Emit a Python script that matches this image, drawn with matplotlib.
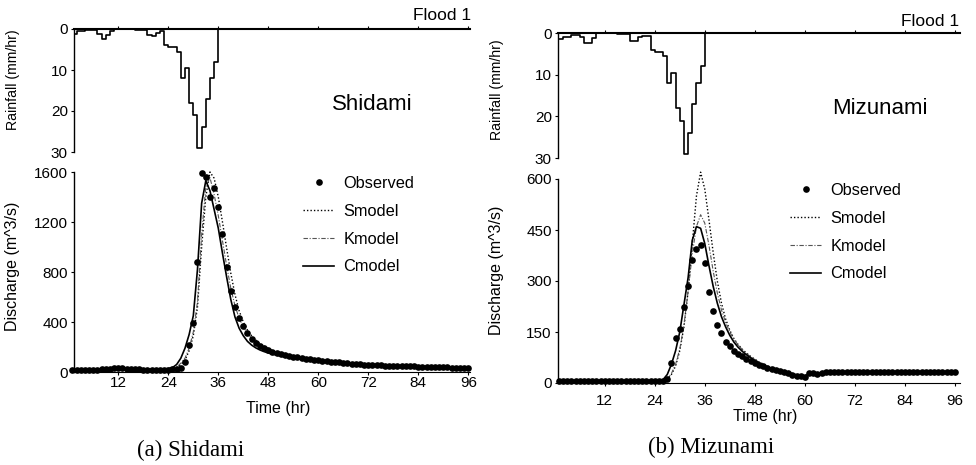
import numpy as np
import matplotlib
matplotlib.use('Agg')
import matplotlib.pyplot as plt
from matplotlib.lines import Line2D

# ---------------- data ----------------
hours = np.arange(1, 97)

rain_shidami = [1.2, 0.6, 0.6, 0.3, 0.3, 0.3, 1.2, 2.5, 1.5, 0.5,
                0, 0, 0, 0, 0, 0.2, 0.3, 0.3, 1.5, 1.8,
                1.0, 0.5, 4.0, 4.5, 4.5, 5.5, 12, 9.5, 18, 21,
                29, 24, 17, 12, 8, 0, 0, 0, 0, 0,
                0, 0, 0, 0, 0, 0, 0, 0, 0, 0,
                0, 0, 0, 0, 0, 0, 0, 0, 0, 0,
                0, 0, 0, 0, 0, 0, 0, 0, 0, 0,
                0, 0, 0, 0, 0, 0, 0, 0, 0, 0,
                0, 0, 0, 0, 0, 0, 0, 0, 0, 0,
                0, 0, 0, 0, 0, 0]

rain_mizunami = [1.5, 1.0, 1.0, 0.5, 0.5, 1.0, 2.5, 2.5, 1.2, 0,
                 0, 0, 0, 0, 0.3, 0.3, 0.3, 1.8, 1.8, 1.0,
                 0.6, 0.6, 4.0, 4.5, 4.5, 5.5, 12, 9.5, 18, 21,
                 29, 24, 17, 12, 8, 0, 0, 0, 0, 0,
                 0, 0, 0, 0, 0, 0, 0, 0, 0, 0,
                 0, 0, 0, 0, 0, 0, 0, 0, 0, 0,
                 0, 0, 0, 0, 0, 0, 0, 0, 0, 0,
                 0, 0, 0, 0, 0, 0, 0, 0, 0, 0,
                 0, 0, 0, 0, 0, 0, 0, 0, 0, 0,
                 0, 0, 0, 0, 0, 0]

obs_shidami = [18, 18, 18, 18, 18, 19, 20, 22, 25, 28,
               30, 31, 30, 28, 26, 24, 22, 20, 19, 18,
               18, 18, 19, 20, 22, 26, 35, 83, 216, 395,
               882, 1590, 1558, 1398, 1475, 1323, 1104, 837, 651, 517,
               429, 368, 309, 265, 235, 210, 190, 175, 162, 152,
               144, 137, 130, 124, 118, 113, 108, 103, 98, 94,
               90, 87, 84, 81, 78, 76, 74, 66, 63, 61,
               59, 57, 55, 54, 53, 52, 51, 50, 49, 48,
               47, 46, 45, 44, 43, 42, 41, 40, 39, 38,
               37, 36, 35, 34, 33, 32]

smodel_shidami = [18, 18, 18, 18, 19, 20, 22, 25, 28, 31,
                  33, 34, 33, 31, 29, 27, 25, 23, 21, 20,
                  19, 19, 20, 21, 24, 35, 60, 95, 170, 290,
                  520, 1000, 1400, 1600, 1550, 1400, 1200, 990, 790, 620,
                  490, 400, 335, 290, 255, 228, 206, 188, 173, 161,
                  151, 142, 134, 127, 121, 115, 110, 105, 101, 97,
                  93, 89, 86, 83, 80, 78, 76, 71, 67, 64,
                  61, 59, 57, 55, 54, 53, 52, 51, 50, 49,
                  48, 47, 46, 45, 44, 43, 42, 41, 40, 39,
                  38, 37, 36, 35, 34, 33]

kmodel_shidami = [18, 18, 18, 18, 19, 20, 22, 25, 28, 31,
                  33, 34, 33, 31, 29, 27, 25, 23, 21, 20,
                  19, 19, 20, 22, 26, 40, 70, 110, 190, 320,
                  560, 1100, 1480, 1555, 1420, 1250, 1050, 850, 670, 530,
                  430, 360, 310, 270, 240, 215, 196, 180, 167, 156,
                  147, 139, 132, 125, 119, 114, 109, 104, 100, 96,
                  92, 88, 85, 82, 79, 77, 75, 70, 66, 63,
                  61, 59, 57, 55, 54, 53, 52, 51, 50, 49,
                  48, 47, 46, 45, 44, 43, 42, 41, 40, 39,
                  38, 37, 36, 35, 34, 33]

cmodel_shidami = [18, 18, 18, 19, 20, 22, 24, 27, 30, 33,
                  35, 35, 34, 32, 30, 28, 26, 24, 22, 21,
                  20, 21, 24, 28, 35, 60, 110, 190, 300, 450,
                  820, 1350, 1530, 1450, 1300, 1150, 950, 760, 580, 440,
                  350, 290, 245, 215, 193, 176, 163, 152, 143, 135,
                  128, 122, 116, 111, 106, 102, 98, 94, 90, 87,
                  84, 81, 78, 75, 73, 71, 69, 67, 65, 63,
                  61, 59, 57, 55, 54, 53, 52, 51, 50, 49,
                  48, 47, 46, 45, 44, 43, 42, 41, 40, 39,
                  38, 37, 36, 35, 34, 33]

obs_mizunami = [5, 5, 5, 5, 5, 5, 5, 5, 5, 5,
                5, 5, 5, 5, 5, 5, 5, 5, 5, 5,
                5, 5, 5, 5, 6, 7, 12, 60, 132, 158,
                223, 286, 362, 394, 406, 352, 267, 212, 171, 147,
                122, 108, 93, 85, 78, 71, 65, 59, 54, 49,
                45, 41, 37, 34, 31, 28, 25, 22, 20, 18,
                30, 28, 27, 30, 31, 31, 31, 31, 31, 31,
                31, 31, 31, 31, 31, 31, 31, 32, 32, 32,
                32, 32, 32, 32, 32, 32, 32, 32, 32, 32,
                32, 32, 32, 32, 32, 32]

smodel_mizunami = [5, 5, 5, 5, 5, 5, 5, 5, 5, 5,
                   5, 5, 5, 5, 5, 5, 5, 5, 5, 5,
                   5, 5, 5, 5, 5, 6, 12, 25, 50, 95,
                   165, 270, 410, 550, 620, 570, 480, 385, 300, 235,
                   188, 155, 130, 113, 99, 88, 78, 70, 62, 56,
                   50, 45, 41, 37, 34, 31, 28, 25, 23, 21,
                   28, 28, 28, 30, 31, 31, 31, 31, 31, 31,
                   31, 31, 31, 31, 31, 31, 31, 32, 32, 32,
                   32, 32, 32, 32, 32, 32, 32, 32, 32, 32,
                   32, 32, 32, 32, 32, 32]

kmodel_mizunami = [5, 5, 5, 5, 5, 5, 5, 5, 5, 5,
                   5, 5, 5, 5, 5, 5, 5, 5, 5, 5,
                   5, 5, 5, 5, 5, 6, 12, 28, 55, 100,
                   170, 270, 380, 460, 495, 470, 405, 330, 265, 215,
                   178, 150, 128, 112, 98, 87, 77, 69, 61, 55,
                   49, 44, 40, 36, 33, 30, 27, 24, 22, 21,
                   28, 28, 28, 30, 31, 31, 31, 31, 31, 31,
                   31, 31, 31, 31, 31, 31, 31, 32, 32, 32,
                   32, 32, 32, 32, 32, 32, 32, 32, 32, 32,
                   32, 32, 32, 32, 32, 32]

cmodel_mizunami = [5, 5, 5, 5, 5, 5, 5, 5, 5, 5,
                   5, 5, 5, 5, 5, 5, 5, 5, 5, 5,
                   5, 5, 5, 5, 6, 10, 25, 55, 95, 150,
                   230, 310, 420, 460, 455, 410, 345, 285, 235, 195,
                   165, 140, 120, 105, 93, 83, 74, 66, 59, 53,
                   48, 43, 39, 35, 32, 29, 26, 23, 21, 20,
                   28, 28, 28, 30, 31, 31, 31, 31, 31, 31,
                   31, 31, 31, 31, 31, 31, 31, 32, 32, 32,
                   32, 32, 32, 32, 32, 32, 32, 32, 32, 32,
                   32, 32, 32, 32, 32, 32]

time_ticks = [12, 24, 36, 48, 60, 72, 84, 96]
rain_ticks = [0, 10, 20, 30]
q_ticks_shidami = [0, 400, 800, 1200, 1600]
q_ticks_mizunami = [0, 150, 300, 450, 600]
legend_labels = ['Observed', 'Smodel', 'Kmodel', 'Cmodel']

# ---------------- layout ----------------
plt.rcParams['font.family'] = ['Liberation Sans', 'DejaVu Sans']
W, H = 976, 465
fig = plt.figure(figsize=(W / 100, H / 100), dpi=100)


def box(l, t, r, b):
    return [l / W, 1 - b / H, (r - l) / W, (b - t) / H]


panels = [
    dict(rain=rain_shidami, obs=obs_shidami, s=smodel_shidami, k=kmodel_shidami,
         c=cmodel_shidami, qticks=q_ticks_shidami, qmax=1600,
         rbox=box(74, 29, 470, 152), qbox=box(74, 172, 470, 372), xlim=(1.37, 96.4),
         name='Shidami', name_xy=(372, 105), flood_xy=(471, 15),
         cap='(a) Shidami', cap_xy=(191, 450), ylab_x=13, rlab_y=80, qlab_y=266,
         xlab_xy=(278, 408), xpad=1.0, leg_xy=(303, 176)),
    dict(rain=rain_mizunami, obs=obs_mizunami, s=smodel_mizunami, k=kmodel_mizunami,
         c=cmodel_mizunami, qticks=q_ticks_mizunami, qmax=600,
         rbox=box(558, 33, 960, 158), qbox=box(558, 179, 960, 383), xlim=(0.8, 97.2),
         name='Mizunami', name_xy=(880, 109), flood_xy=(959, 21),
         cap='(b) Mizunami', cap_xy=(711, 447), ylab_x=497, rlab_y=90, qlab_y=270,
         xlab_xy=(765, 416), xpad=6.0, leg_xy=(790, 183)),
]

fs_tick = 11
for p in panels:
    # rainfall hyetograph
    ar = fig.add_axes(p['rbox'])
    ar.step(hours, p['rain'], where='post', color='black', lw=1.2)
    ar.set_xlim(*p['xlim'])
    ar.set_ylim(30, 0)
    ar.set_yticks(rain_ticks)
    ar.set_yticklabels([str(v) for v in rain_ticks], fontsize=fs_tick)
    ar.xaxis.tick_top()
    ar.set_xticks(time_ticks)
    ar.tick_params(axis='x', top=True, labeltop=False, bottom=False, labelbottom=False,
                   length=2, width=0.8, direction='out')
    ar.tick_params(axis='y', length=2.5, width=0.8, pad=2)
    for sp in ['bottom', 'right']:
        ar.spines[sp].set_visible(False)
    ar.spines['top'].set_linewidth(1.5)
    ar.spines['left'].set_linewidth(1.0)
    ar.patch.set_alpha(0)

    # discharge hydrograph
    aq = fig.add_axes(p['qbox'])
    aq.plot(hours, p['s'], color='black', lw=1.0, dashes=(1, 1.5), clip_on=False, zorder=2)
    aq.plot(hours, p['k'], color='#555555', lw=0.8, dashes=(4, 1.5, 1, 1.5), clip_on=False, zorder=2)
    aq.plot(hours, p['c'], color='black', lw=1.2, clip_on=False, zorder=3)
    aq.plot(hours, p['obs'], 'o', color='black', ms=4.8, mew=0, clip_on=False, zorder=4)
    aq.set_xlim(*p['xlim'])
    aq.set_ylim(0, p['qmax'])
    aq.set_xticks(time_ticks)
    aq.set_xticklabels([str(v) for v in time_ticks], fontsize=fs_tick)
    aq.set_yticks(p['qticks'])
    aq.set_yticklabels([str(v) for v in p['qticks']], fontsize=fs_tick)
    aq.tick_params(axis='y', length=2.5, width=0.8, pad=2)
    aq.tick_params(axis='x', length=2, width=0.8, pad=p['xpad'])
    for sp in ['top', 'right']:
        aq.spines[sp].set_visible(False)
    aq.spines['left'].set_linewidth(1.0)
    aq.spines['bottom'].set_linewidth(0.8)
    aq.patch.set_alpha(0)

    handles = [Line2D([], [], marker='o', ls='none', color='black', ms=4.8, mew=0),
               Line2D([], [], color='black', lw=1.0, dashes=(1, 1.5)),
               Line2D([], [], color='#555555', lw=0.8, dashes=(4, 1.5, 1, 1.5)),
               Line2D([], [], color='black', lw=1.2)]
    aq.legend(handles, legend_labels, loc='upper left',
              bbox_to_anchor=(p['leg_xy'][0] / W, 1 - p['leg_xy'][1] / H),
              bbox_transform=fig.transFigure, frameon=False, borderpad=0,
              borderaxespad=0, handlelength=1.9, handletextpad=0.55,
              labelspacing=0.78, fontsize=11.8)

    # texts
    fig.text(p['ylab_x'] / W, 1 - p['rlab_y'] / H, 'Rainfall (mm/hr)', rotation=90,
             ha='center', va='center', fontsize=10.2)
    fig.text(p['ylab_x'] / W, 1 - p['qlab_y'] / H, 'Discharge (m^3/s)', rotation=90,
             ha='center', va='center', fontsize=11.5)
    fig.text(p['xlab_xy'][0] / W, 1 - p['xlab_xy'][1] / H, 'Time (hr)',
             ha='center', va='center', fontsize=11.5)
    fig.text(p['name_xy'][0] / W, 1 - p['name_xy'][1] / H, p['name'],
             ha='center', va='center', fontsize=16)
    fig.text(p['flood_xy'][0] / W, 1 - p['flood_xy'][1] / H, 'Flood 1',
             ha='right', va='center', fontsize=12.5)
    fig.text(p['cap_xy'][0] / W, 1 - p['cap_xy'][1] / H, p['cap'],
             ha='center', va='center', fontsize=16.5,
             family=['Liberation Serif', 'DejaVu Serif'])

fig.savefig('out.png', dpi=100)
